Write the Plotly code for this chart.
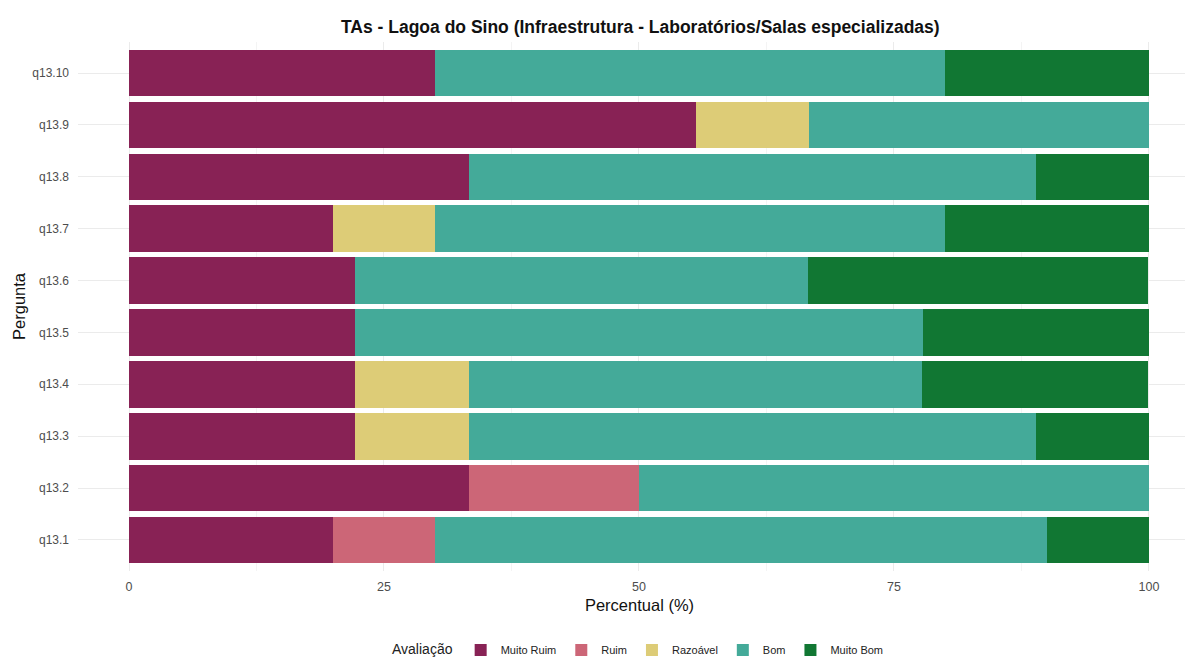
import plotly.graph_objects as go

perguntas = ["q13.1", "q13.2", "q13.3", "q13.4", "q13.5",
             "q13.6", "q13.7", "q13.8", "q13.9", "q13.10"]

avaliacoes = ["Muito Ruim", "Ruim", "Razoável", "Bom", "Muito Bom"]

muito_ruim = [20.0, 33.3, 22.2, 22.2, 22.2, 22.2, 20.0, 33.3, 55.6, 30.0]
ruim = [10.0, 16.7, 0, 0, 0, 0, 0, 0, 0, 0]
razoavel = [0, 0, 11.1, 11.1, 0, 0, 10.0, 0, 11.1, 0]
bom = [60.0, 50.0, 55.6, 44.4, 55.6, 44.4, 50.0, 55.6, 33.3, 50.0]
muito_bom = [10.0, 0, 11.1, 22.2, 22.2, 33.3, 20.0, 11.1, 0, 20.0]

cores = ["#882255", "#CC6677", "#DDCC77", "#44AA99", "#117733"]

fig = go.Figure()
for nome, valores, cor in zip(avaliacoes, [muito_ruim, ruim, razoavel, bom, muito_bom], cores):
    fig.add_trace(go.Bar(
        y=perguntas, x=valores, name=nome, orientation="h",
        marker=dict(color=cor, line=dict(width=0)),
    ))

fig.update_layout(
    barmode="stack",
    bargap=0.1,
    width=1193, height=659,
    margin=dict(l=70, r=0, t=34, b=96, autoexpand=False),
    paper_bgcolor="white",
    plot_bgcolor="white",
    font=dict(family="Liberation Sans, Arial, sans-serif", color="#222"),
    title=dict(
        text="<b>TAs - Lagoa do Sino (Infraestrutura - Laboratórios/Salas especializadas)</b>",
        x=0.53, xanchor="center", y=0.971, yanchor="middle",
        font=dict(size=17.5, color="#111"),
    ),
    legend=dict(
        orientation="h", x=0.5, xanchor="center", y=-0.122, yanchor="top",
        title=dict(text="Avaliação", font=dict(size=14)),
        font=dict(size=11), traceorder="normal", itemwidth=30,
    ),
)

fig.update_xaxes(
    range=[-5, 105.1],
    automargin=False,
    tickvals=[0, 25, 50, 75, 100],
    showgrid=True, gridcolor="#ebebeb", gridwidth=1,
    minor=dict(tickvals=[12.5, 37.5, 62.5, 87.5], showgrid=True, gridcolor="#f4f4f4"),
    zeroline=False, showline=False,
    tickfont=dict(size=12.5, color="#4d4d4d"),
    ticklabelstandoff=6,
    title=dict(text="Percentual (%)", font=dict(size=16.5, color="#111"), standoff=6),
)
fig.update_yaxes(
    range=[-0.6, 9.6],
    automargin=False,
    categoryorder="array", categoryarray=perguntas,
    showgrid=True, gridcolor="#ebebeb",
    zeroline=False, showline=False,
    tickfont=dict(size=12, color="#4d4d4d"),
    ticklabelstandoff=8,
    title=dict(text="Pergunta", font=dict(size=16.5, color="#111"), standoff=2),
)

fig.write_html("out.html")
